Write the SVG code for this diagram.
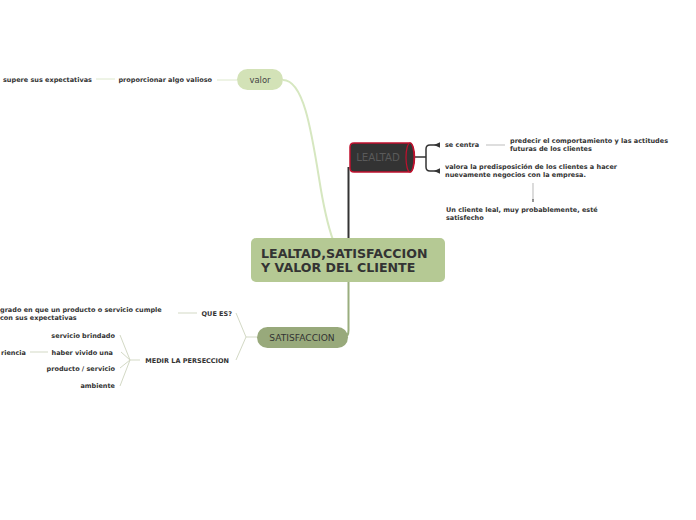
<svg xmlns="http://www.w3.org/2000/svg" width="696" height="520" viewBox="0 0 696 520">
<style>
.t{font-family:"DejaVu Sans",Verdana,sans-serif;font-weight:bold;font-size:6.5px;fill:#333}
.lg{fill:none;stroke:#dde8cc;stroke-width:1}
.lb{fill:none;stroke:#d3d9c5;stroke-width:1}
.lgray{fill:none;stroke:#c8c8c8;stroke-width:1.2}
</style>
<rect width="696" height="520" fill="#ffffff"/>
<g id="connectors">
<path d="M283,80 C303,80 311,128 319,178 C324,210 328,226 333,240" fill="none" stroke="#d6e7c0" stroke-width="2"/>
<path d="M348.5,240 V167" fill="none" stroke="#333" stroke-width="2"/>
<path d="M348.5,280 V330 Q348.5,337 344,337" fill="none" stroke="#9aae7e" stroke-width="2"/>
<path class="lg" d="M237,80 H217"/>
<path class="lg" d="M115,79 H96"/>
<path d="M414,157 H426" stroke="#333" stroke-width="1.5" fill="none"/>
<path d="M436,145 H430 Q426,145 426,149 V167 Q426,171 430,171 H436" stroke="#333" stroke-width="1.5" fill="none"/>
<polygon points="434,145 440,142.3 440,147.7" fill="#333"/>
<polygon points="434,171 440,168.3 440,173.7" fill="#333"/>
<path class="lgray" d="M486,145 H505"/>
<path d="M533,183 V200" stroke="#c4c4c4" stroke-width="1.2" fill="none"/>
<path d="M533,199 V202" stroke="#555" stroke-width="1.2" fill="none"/>
<path class="lb" d="M257,337 H246 L236,313 M246,337 L236,360"/>
<path class="lb" d="M197,313 H178"/>
<path class="lb" d="M140,360 H130 L120,335 M130,360 L121,352 M130,360 L120,368 M130,360 L120,386"/>
<path class="lb" d="M48,352 H30"/>
</g>
<g id="center">
<rect x="251" y="238" width="194" height="44" rx="5" fill="#b5c994"/>
<text x="261" y="258" font-family="'DejaVu Sans',Verdana,sans-serif" font-weight="bold" font-size="12.6" fill="#333">LEALTAD,SATISFACCION</text>
<text x="261" y="272" font-family="'DejaVu Sans',Verdana,sans-serif" font-weight="bold" font-size="12.6" fill="#333">Y VALOR DEL CLIENTE</text>
</g>
<g id="valor">
<rect x="237" y="69" width="46" height="21" rx="10.5" fill="#d3e2b7"/>
<text x="260" y="83" text-anchor="middle" font-family="'DejaVu Sans',Verdana,sans-serif" font-size="8.4" fill="#444">valor</text>
</g>
<g id="proporcionar">
<text class="t" x="212" y="82" text-anchor="end">proporcionar algo valioso</text>
</g>
<g id="supere">
<text class="t" x="3" y="82">supere sus expectativas</text>
</g>
<g id="lealtad">
<path d="M354,143 H410 A4.5,14.5 0 0 1 410,172 H354 Q350,172 350,168 V147 Q350,143 354,143 Z" fill="#333" stroke="#c0112e" stroke-width="1.5"/>
<ellipse cx="410" cy="157.5" rx="4" ry="14.5" fill="#333" stroke="#c0112e" stroke-width="1.2"/>
<text x="378" y="161" text-anchor="middle" font-family="'DejaVu Sans',Verdana,sans-serif" font-size="10.2" fill="#5a5a5a">LEALTAD</text>
</g>
<g id="secentra">
<text class="t" x="445" y="147">se centra</text>
</g>
<g id="predecir">
<text class="t" x="510" y="143">predecir el comportamiento y las actitudes</text>
<text class="t" x="510" y="151">futuras de los clientes</text>
</g>
<g id="valora">
<text class="t" x="445" y="169">valora la predisposición de los clientes a hacer</text>
<text class="t" x="445" y="177">nuevamente negocios con la empresa.</text>
</g>
<g id="clienteleal">
<text class="t" x="446" y="212">Un cliente leal, muy probablemente, esté</text>
<text class="t" x="446" y="220">satisfecho</text>
</g>
<g id="satisfaccion">
<rect x="257" y="327" width="91" height="21" rx="10.5" fill="#98a97b"/>
<text x="302" y="341" text-anchor="middle" font-family="'DejaVu Sans',Verdana,sans-serif" font-size="9.1" fill="#333">SATISFACCION</text>
</g>
<g id="quees">
<text class="t" x="232" y="316" text-anchor="end">QUE ES?</text>
</g>
<g id="grado">
<text class="t" x="0" y="312">grado en que un producto o servicio cumple</text>
<text class="t" x="0" y="320">con sus expectativas</text>
</g>
<g id="medir">
<text class="t" x="229" y="363" text-anchor="end">MEDIR LA PERSECCION</text>
</g>
<g id="servicio">
<text class="t" x="115" y="338" text-anchor="end">servicio brindado</text>
</g>
<g id="haber">
<text class="t" x="113" y="355" text-anchor="end">haber vivido una</text>
</g>
<g id="riencia">
<text class="t" x="1" y="355">riencia</text>
</g>
<g id="producto">
<text class="t" x="115" y="371" text-anchor="end">producto / servicio</text>
</g>
<g id="ambiente">
<text class="t" x="115" y="388" text-anchor="end">ambiente</text>
</g>
</svg>
